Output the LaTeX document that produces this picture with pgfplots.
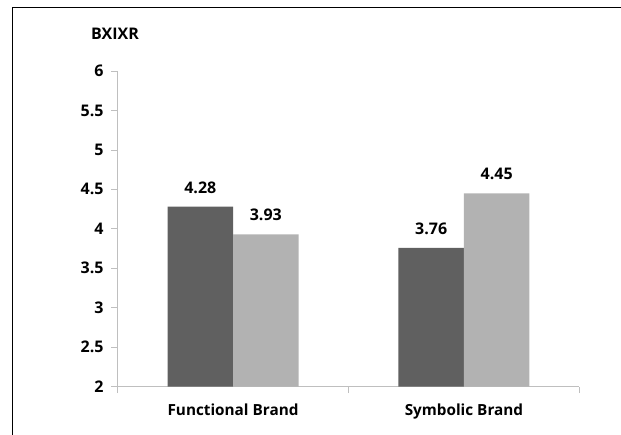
\documentclass[border=0pt]{standalone}
\usepackage{pgfplots}
\pgfplotsset{compat=1.18}
\usepackage{fontspec}
\setmainfont{Open Sans}
\definecolor{darkbar}{HTML}{606060}
\definecolor{lightbar}{HTML}{B2B2B2}
\definecolor{axisgray}{HTML}{BFBFBF}
\newcommand{\lblfont}{\fontsize{16}{18}\selectfont\bfseries}
\newcommand{\catfont}{\fontsize{15.3}{18}\selectfont\bfseries}
\begin{document}
\begin{tikzpicture}[x=1pt,y=1pt]
\path[use as bounding box] (0,0) rectangle (621,435);
\draw[line width=1.6pt] (12.5,0) -- (12.5,427.3) -- (621,427.3);
\node[font=\lblfont] at (115,401) {BXIXR};
\begin{axis}[
  at={(117.6pt,48.3pt)}, anchor=south west,
  scale only axis, width=461.8pt, height=315.7pt,
  xmin=0, xmax=2, ymin=2, ymax=6,
  ytick={2,2.5,3,3.5,4,4.5,5,5.5,6},
  xtick={0,1,2}, xticklabels={},
  extra x ticks={0.5,1.5},
  extra x tick labels={Functional Brand,Symbolic Brand},
  extra x tick style={major tick length=0pt, tick label style={yshift=-14pt, font=\catfont}},
  axis x line*=bottom, axis y line*=left,
  axis line style={draw=axisgray, line width=0.8pt, -},
  tick style={draw=axisgray, line width=0.8pt},
  tick align=outside, major tick length=6.5pt,
  ticklabel style={font=\lblfont},
  yticklabel style={xshift=-4pt},
  /pgf/number format/assume math mode=true,
  ybar=0pt, bar width=65.5pt,
  nodes near coords={\pgfmathprintnumber[fixed,precision=2,fixed zerofill]{\pgfplotspointmeta}},
  every node near coord/.append style={font=\lblfont, yshift=10pt, text=black},
  clip=false,
]
\addplot[fill=darkbar, draw=none] coordinates {(0.5,4.28) (1.5,3.76)};
\addplot[fill=lightbar, draw=none] coordinates {(0.5,3.93) (1.5,4.45)};
\end{axis}
\end{tikzpicture}
\end{document}
